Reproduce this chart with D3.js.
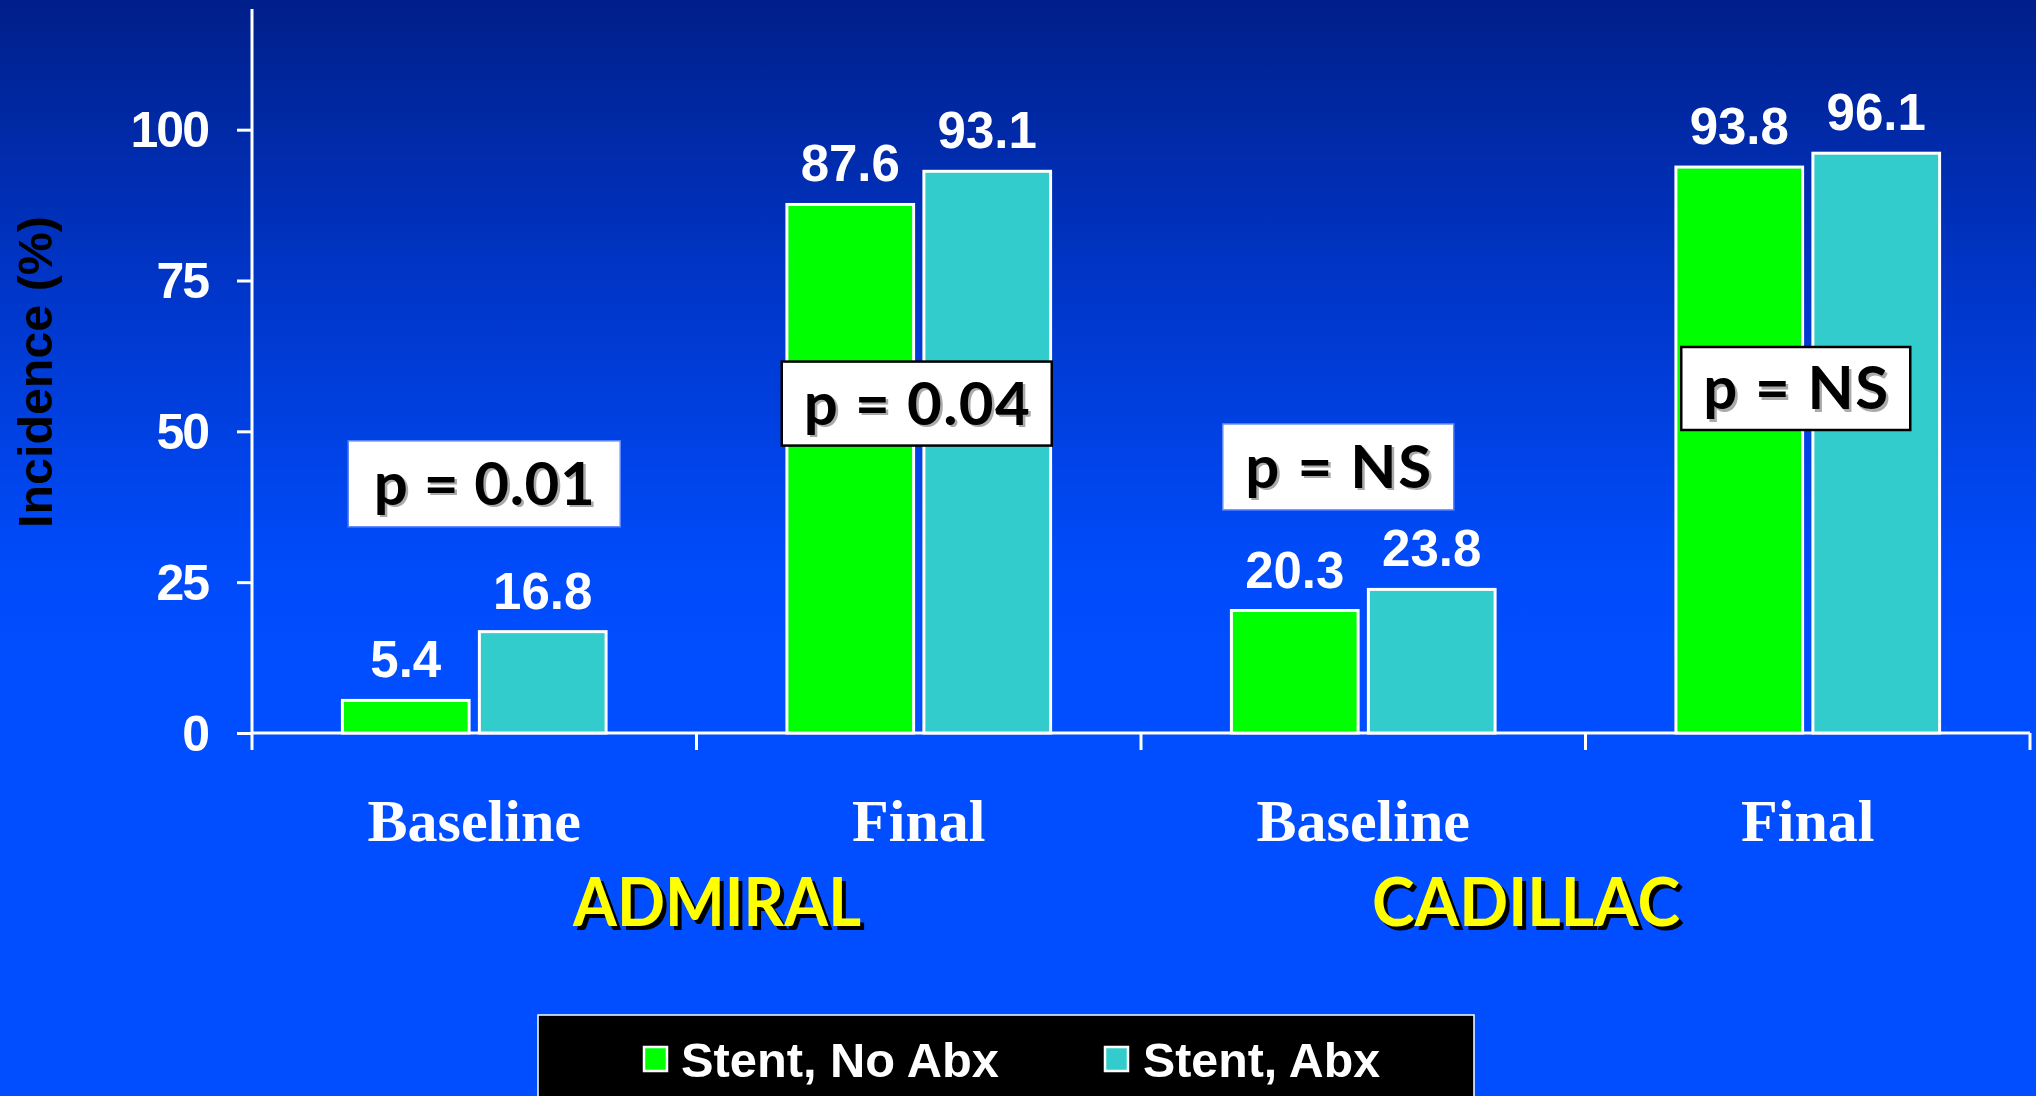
<!DOCTYPE html>
<html>
<head>
<meta charset="utf-8">
<script src="https://cdn.jsdelivr.net/npm/d3@7"></script>
<style>
  html, body { margin: 0; padding: 0; background: #004EFF; overflow: hidden; }
  svg { display: block; }
</style>
</head>
<body>
<svg id="chart" width="2036" height="1096"></svg>
<script>
// ---- data ----
const studies   = ["ADMIRAL", "CADILLAC"];
const phases    = ["Baseline", "Final"];
const seriesNames = ["Stent, No Abx", "Stent, Abx"];
const noAbx     = [5.4, 87.6, 20.3, 93.8];   // ADMIRAL Baseline, ADMIRAL Final, CADILLAC Baseline, CADILLAC Final
const withAbx   = [16.8, 93.1, 23.8, 96.1];
const pLabels   = ["p = 0.01", "p = 0.04", "p = NS", "p = NS"];
const yTicks    = [0, 25, 50, 75, 100];

// ---- layout ----
const W = 2036, H = 1096;
const plot = { left: 252, right: 2030, top: 9, base: 733, tickBottom: 750 };
const colors = ["#00FF00", "#33CCCC"];
const comicFont = "'Comic Sans MS', 'Lato', 'Noto Sans', sans-serif";
const arialFont = "'Liberation Sans', Arial, sans-serif";
const serifFont = "'Liberation Serif', 'Times New Roman', serif";

const svg = d3.select("#chart");

// background gradient
const defs = svg.append("defs");
const grad = defs.append("linearGradient").attr("id", "bg")
  .attr("x1", 0).attr("y1", 0).attr("x2", 0).attr("y2", 1);
grad.append("stop").attr("offset", "0%").attr("stop-color", "#001F8A");
grad.append("stop").attr("offset", "25%").attr("stop-color", "#0035C6");
grad.append("stop").attr("offset", "50%").attr("stop-color", "#004AF8");
grad.append("stop").attr("offset", "60%").attr("stop-color", "#004EFF");
grad.append("stop").attr("offset", "100%").attr("stop-color", "#004EFF");
svg.append("rect").attr("width", W).attr("height", H).attr("fill", "url(#bg)");

// categories: one per study/phase pair
const cats = [];
studies.forEach(s => phases.forEach(p => cats.push({ study: s, phase: p, key: s + "|" + p })));
cats.forEach((c, i) => { c.values = [noAbx[i], withAbx[i]]; c.p = pLabels[i]; });

const x0 = d3.scaleBand().domain(cats.map(c => c.key)).range([plot.left, plot.right]).padding(0);
const x1 = d3.scaleBand().domain([0, 1]).range([0, x0.bandwidth()]).paddingInner(0.075).paddingOuter(0.66);
const y = d3.scaleLinear().domain([0, 120]).range([plot.base, plot.top]);

// ---- y axis ----
const yAxis = svg.append("g").attr("transform", `translate(${plot.left},0)`)
  .call(d3.axisLeft(y).tickValues(yTicks).tickSize(15).tickPadding(29).tickSizeOuter(0));
yAxis.select(".domain").remove();
yAxis.selectAll(".tick line").attr("stroke", "#fff").attr("stroke-width", 3);
yAxis.selectAll(".tick text")
  .attr("fill", "#fff").attr("font-family", arialFont).attr("font-weight", "bold")
  .attr("font-size", 50).attr("letter-spacing", -2).attr("dy", "0.34em");
svg.append("line").attr("x1", plot.left).attr("x2", plot.left)
  .attr("y1", plot.top).attr("y2", plot.tickBottom)
  .attr("stroke", "#fff").attr("stroke-width", 3);

// y axis title
svg.append("text")
  .attr("transform", `translate(52,372) rotate(-90)`)
  .attr("text-anchor", "middle")
  .attr("font-family", arialFont).attr("font-weight", "bold").attr("font-size", 49)
  .attr("textLength", 312).attr("lengthAdjust", "spacingAndGlyphs")
  .attr("fill", "#000").text("Incidence (%)");

// ---- x axis ----
svg.append("line").attr("x1", plot.left).attr("x2", plot.right)
  .attr("y1", plot.base).attr("y2", plot.base)
  .attr("stroke", "#fff").attr("stroke-width", 3);
const bounds = cats.map(c => x0(c.key)).concat([x0(cats[cats.length - 1].key) + x0.bandwidth()]);
svg.selectAll("line.divider").data(bounds.slice(1)).enter().append("line")
  .attr("class", "divider")
  .attr("x1", d => d).attr("x2", d => d)
  .attr("y1", plot.base).attr("y2", plot.tickBottom)
  .attr("stroke", "#fff").attr("stroke-width", 3);

// phase labels
svg.selectAll("text.phase").data(cats).enter().append("text")
  .attr("class", "phase")
  .attr("x", d => x0(d.key) + x0.bandwidth() / 2).attr("y", 841)
  .attr("text-anchor", "middle")
  .attr("font-family", serifFont).attr("font-weight", "bold").attr("font-size", 60)
  .attr("fill", "#fff").text(d => d.phase);

// study labels (yellow with black drop shadow)
const studyPos = [{ cx: 717, len: 288 }, { cx: 1526, len: 308 }];
studies.forEach((s, i) => {
  const g = svg.append("g");
  [["#000", 4], ["#FFFF00", 0]].forEach(([col, off]) => {
    g.append("text")
      .attr("x", studyPos[i].cx + off).attr("y", 926 + off)
      .attr("text-anchor", "middle")
      .attr("font-family", comicFont).attr("font-weight", "bold").attr("font-size", 66)
      .attr("textLength", studyPos[i].len).attr("lengthAdjust", "spacingAndGlyphs")
      .attr("fill", col).text(s);
  });
});

// ---- bars ----
const groups = svg.selectAll("g.cat").data(cats).enter().append("g")
  .attr("class", "cat").attr("transform", d => `translate(${x0(d.key)},0)`);

groups.selectAll("rect").data(d => d.values.map((v, j) => ({ v, j }))).enter().append("rect")
  .attr("x", d => x1(d.j)).attr("width", x1.bandwidth())
  .attr("y", d => y(d.v)).attr("height", d => y(0) - y(d.v))
  .attr("fill", d => colors[d.j]).attr("stroke", "#fff").attr("stroke-width", 3);

groups.selectAll("text.val").data(d => d.values.map((v, j) => ({ v, j }))).enter().append("text")
  .attr("class", "val")
  .attr("x", d => x1(d.j) + x1.bandwidth() / 2).attr("y", d => y(d.v) - 23)
  .attr("text-anchor", "middle")
  .attr("font-family", arialFont).attr("font-weight", "bold").attr("font-size", 51)
  .attr("fill", "#fff").text(d => d.v.toFixed(1));

// ---- p-value boxes ----
const pBoxLayout = [
  { dx: 10,  v: 41.3, w: 272, h: 86, border: "#5C86FF", bw: 1.5, len: 221 },
  { dx: -2,  v: 54.6, w: 270, h: 84, border: "#000",    bw: 2.5, len: 226 },
  { dx: -25, v: 44.1, w: 231, h: 86, border: "#5C86FF", bw: 1.5, len: 186 },
  { dx: -12, v: 57.1, w: 229, h: 83, border: "#000",    bw: 2.5, len: 185 }
];
cats.forEach((c, i) => {
  const L = pBoxLayout[i];
  const cx = x0(c.key) + x0.bandwidth() / 2 + L.dx;
  const cy = y(L.v);
  const g = svg.append("g");
  g.append("rect")
    .attr("x", cx - L.w / 2).attr("y", cy - L.h / 2)
    .attr("width", L.w).attr("height", L.h)
    .attr("fill", "#fff").attr("stroke", L.border).attr("stroke-width", L.bw);
  [["#AAAAAA", 2.5], ["#000", 0]].forEach(([col, off]) => {
    g.append("text")
      .attr("x", cx + off).attr("y", cy + 21 + off)
      .attr("text-anchor", "middle")
      .attr("font-family", comicFont).attr("font-weight", "bold").attr("font-size", 60)
      .attr("textLength", L.len).attr("lengthAdjust", "spacing")
      .attr("xml:space", "preserve")
      .attr("fill", col).text(c.p);
  });
});

// ---- legend ----
const legend = svg.append("g");
legend.append("rect").attr("x", 538).attr("y", 1015).attr("width", 936).attr("height", 100)
  .attr("fill", "#000").attr("stroke", "#fff").attr("stroke-width", 1.5);
const legendItems = [
  { sx: 644, tx: 681, len: 318 },
  { sx: 1105, tx: 1143, len: 237 }
];
seriesNames.forEach((name, i) => {
  const it = legendItems[i];
  legend.append("rect").attr("x", it.sx).attr("y", 1047).attr("width", 23).attr("height", 24)
    .attr("fill", colors[i]).attr("stroke", "#fff").attr("stroke-width", 2.5);
  legend.append("text").attr("x", it.tx).attr("y", 1077)
    .attr("font-family", arialFont).attr("font-weight", "bold").attr("font-size", 48)
    .attr("textLength", it.len).attr("lengthAdjust", "spacingAndGlyphs")
    .attr("fill", "#fff").text(name);
});
</script>
</body>
</html>
